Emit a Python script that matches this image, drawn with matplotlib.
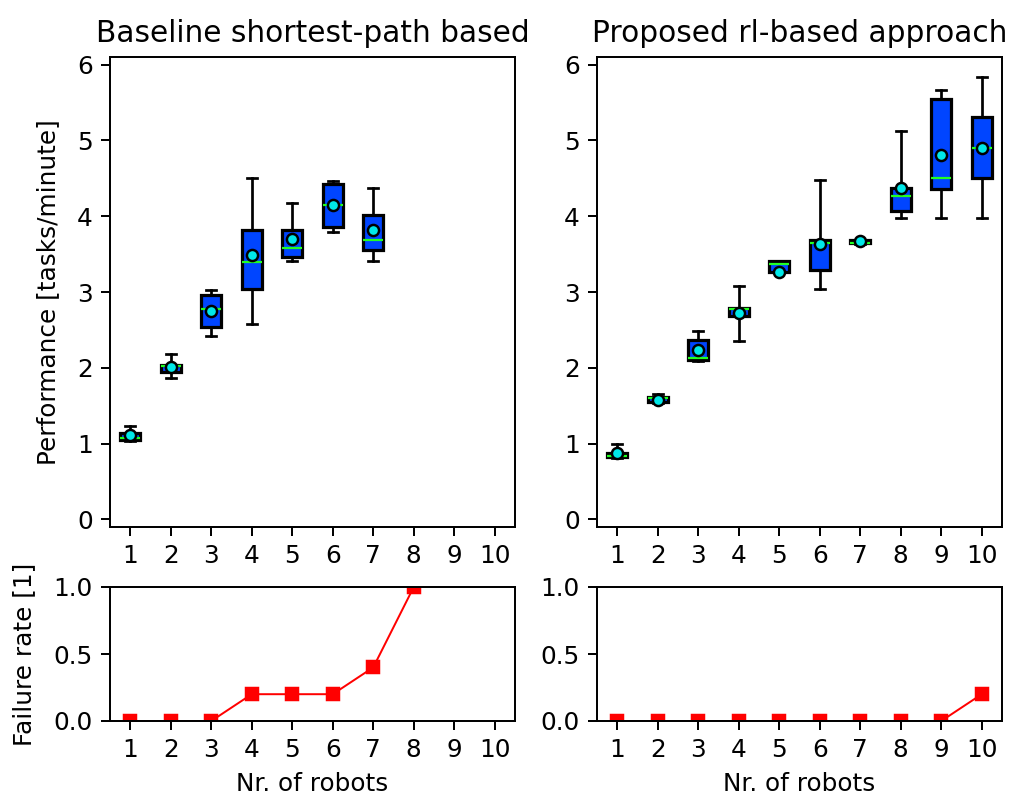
import matplotlib
matplotlib.use("Agg")
import matplotlib.pyplot as plt

robots = list(range(1, 11))

# Baseline shortest-path based (robots 1..7)
base_whislo = [1.04, 1.87, 2.42, 2.58, 3.41, 3.79, 3.41]
base_q1     = [1.05, 1.94, 2.54, 3.04, 3.46, 3.86, 3.55]
base_med    = [1.07, 2.02, 2.78, 3.39, 3.58, 4.15, 3.68]
base_q3     = [1.14, 2.04, 2.96, 3.82, 3.82, 4.43, 4.01]
base_whishi = [1.23, 2.18, 3.03, 4.50, 4.18, 4.46, 4.37]
base_mean   = [1.11, 2.01, 2.75, 3.49, 3.70, 4.15, 3.82]

# Proposed rl-based approach (robots 1..10)
rl_whislo = [0.81, 1.54, 2.09, 2.35, 3.26, 3.04, 3.63, 3.98, 3.98, 3.98]
rl_q1     = [0.82, 1.55, 2.10, 2.68, 3.26, 3.29, 3.64, 4.07, 4.36, 4.50]
rl_med    = [0.84, 1.60, 2.13, 2.78, 3.37, 3.65, 3.65, 4.27, 4.50, 4.90]
rl_q3     = [0.88, 1.61, 2.37, 2.79, 3.41, 3.69, 3.68, 4.37, 5.54, 5.31]
rl_whishi = [1.00, 1.66, 2.49, 3.08, 3.41, 4.48, 3.69, 5.12, 5.67, 5.84]
rl_mean   = [0.87, 1.57, 2.23, 2.72, 3.27, 3.63, 3.67, 4.37, 4.81, 4.90]

# Failure rates
base_fail_x = [1, 2, 3, 4, 5, 6, 7, 8]
base_fail   = [0.0, 0.0, 0.0, 0.2, 0.2, 0.2, 0.4, 1.0]
rl_fail_x = [1, 2, 3, 4, 5, 6, 7, 8, 9, 10]
rl_fail   = [0.0, 0.0, 0.0, 0.0, 0.0, 0.0, 0.0, 0.0, 0.0, 0.2]

titles = ["Baseline shortest-path based", "Proposed rl-based approach"]

dpi = 178
fig = plt.figure(figsize=(1022 / dpi, 796 / dpi), dpi=dpi)

W, H = 1022, 796
def ax_rect(x0, x1, y0, y1):
    return [x0 / W, 1 - y1 / H, (x1 - x0) / W, (y1 - y0) / H]

ax_tl = fig.add_axes(ax_rect(110, 515, 57, 527))
ax_tr = fig.add_axes(ax_rect(597, 1002, 57, 527))
ax_bl = fig.add_axes(ax_rect(110, 515, 587, 721))
ax_br = fig.add_axes(ax_rect(597, 1002, 587, 721))

def make_stats(lo, q1, med, q3, hi, mean):
    return [dict(whislo=a, q1=b, med=c, q3=d, whishi=e, mean=f, fliers=[])
            for a, b, c, d, e, f in zip(lo, q1, med, q3, hi, mean)]

box_face = "#0045ff"
for ax, stats, title in [
    (ax_tl, make_stats(base_whislo, base_q1, base_med, base_q3, base_whishi, base_mean), titles[0]),
    (ax_tr, make_stats(rl_whislo, rl_q1, rl_med, rl_q3, rl_whishi, rl_mean), titles[1]),
]:
    ax.bxp(stats, positions=robots[:len(stats)], widths=0.5, patch_artist=True,
           showmeans=True, showfliers=False,
           boxprops=dict(facecolor=box_face, edgecolor="black", linewidth=1.3),
           medianprops=dict(color="#22ff22", linewidth=0.9),
           whiskerprops=dict(color="black", linewidth=1.1),
           capprops=dict(color="black", linewidth=1.1),
           meanprops=dict(marker="o", markerfacecolor="#00e8e8", markeredgecolor="black",
                          markersize=4.5, markeredgewidth=1.0))
    ax.set_xlim(0.5, 10.5)
    ax.set_ylim(-0.1, 6.1)
    ax.set_xticks(robots)
    ax.set_xticklabels([str(r) for r in robots])
    ax.set_yticks([0, 1, 2, 3, 4, 5, 6])
    ax.set_title(title, fontsize=12)

ax_tl.set_ylabel("Performance [tasks/minute]", labelpad=7)

for ax, xs, ys in [(ax_bl, base_fail_x, base_fail), (ax_br, rl_fail_x, rl_fail)]:
    ax.plot(xs, ys, color="red", linewidth=0.8, marker="s", markersize=5)
    ax.set_xlim(0.5, 10.5)
    ax.set_ylim(0, 1.0)
    ax.set_xticks(robots)
    ax.set_yticks([0.0, 0.5, 1.0])
    ax.set_xlabel("Nr. of robots")

ax_bl.set_ylabel("Failure rate [1]", labelpad=7)

fig.savefig("out.png", dpi=dpi)
